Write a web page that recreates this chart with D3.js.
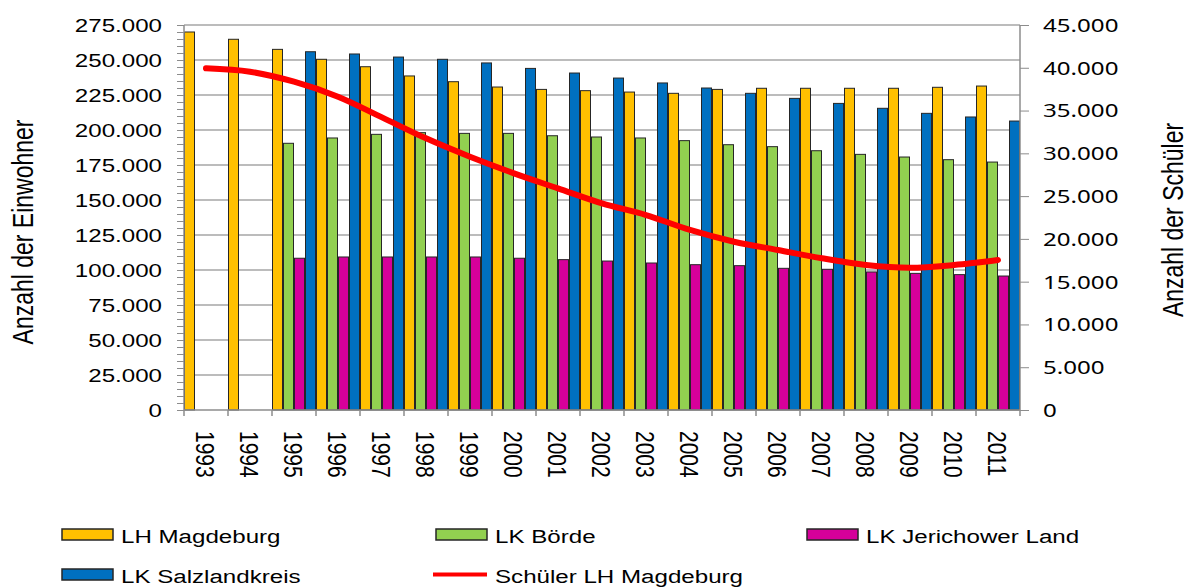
<!DOCTYPE html>
<html>
<head>
<meta charset="utf-8">
<script src="https://cdn.jsdelivr.net/npm/d3@7"></script>
<style>
  body { margin: 0; background: #fff; }
  svg { display: block; }
  text { fill: #000; }
</style>
</head>
<body>
<div id="chart"></div>
<script>
    "use strict";

    // Jahre (Kategorien)
    var years = ["1993", "1994", "1995", "1996", "1997", "1998", "1999", "2000", "2001", "2002",
        "2003", "2004", "2005", "2006", "2007", "2008", "2009", "2010", "2011"];

    // Einwohner (linke Achse)
    var magdeburg = [270000, 264800, 257600, 250500, 245200, 238600, 234500, 230700, 229000, 228100,
        227100, 226200, 229000, 229800, 229800, 229800, 229800, 230500, 231400];
    var boerde = [null, null, 190500, 194300, 196900, 198100, 197600, 197600, 195900, 195000,
        194300, 192400, 189500, 188100, 185200, 182600, 180700, 178800, 177100];
    var jerichow = [null, null, 108400, 109300, 109300, 109300, 109300, 108400, 107400, 106400,
        105000, 103800, 103100, 101200, 100500, 98600, 97600, 96700, 95700];
    var salzland = [null, null, 255900, 254300, 252100, 250500, 247900, 244000, 240700, 237100,
        233600, 230000, 226200, 222600, 219000, 215500, 211900, 209300, 206400];

    // Schüler (rechte Achse)
    var schueler = [39940, 39540, 38370, 36620, 34200, 31750, 29600, 27660, 25900, 24150,
        22790, 21040, 19670, 18700, 17730, 16950, 16630, 16950, 17530];

    var seriesNames = ["LH Magdeburg", "LK Börde", "LK Jerichower Land", "LK Salzlandkreis"];
    var seriesValues = [magdeburg, boerde, jerichow, salzland];
    var seriesColors = ["#FFC000", "#92D050", "#D6009A", "#0070C0"];
    var lineName = "Schüler LH Magdeburg";

    var leftTicks = d3.range(0, 275001, 25000);
    var rightTicks = d3.range(0, 45001, 5000);

    var width = 1189, height = 587;
    var SX = 1.27; // Texte im Original horizontal gestreckt
    var de = d3.formatLocale({ decimal: ",", thousands: ".", grouping: [3], currency: ["", "€"] });
    var fmt = de.format(",.0f");

    var svg = d3.select("#chart").append("svg")
        .attr("width", width)
        .attr("height", height);

    var x0 = d3.scaleBand().domain(years).range([184, 1020]).padding(0);
    var x1 = d3.scaleBand().domain(d3.range(4)).range([0, x0.bandwidth()]).padding(0);
    var yL = d3.scaleLinear().domain([0, 275000]).range([410, 25]);
    var yR = d3.scaleLinear().domain([0, 45000]).range([410, 25]);

    // Gitterlinien
    svg.append("g").selectAll("line")
        .data(leftTicks.filter(function (d) { return d > 0; }))
        .enter().append("line")
        .attr("x1", 184).attr("x2", 1020)
        .attr("y1", function (d) { return yL(d); })
        .attr("y2", function (d) { return yL(d); })
        .attr("stroke", "#a6a6a6").attr("stroke-width", 1.5);

    // Balken
    var groups = svg.append("g").selectAll("g")
        .data(seriesValues)
        .enter().append("g")
        .attr("fill", function (d, i) { return seriesColors[i]; });

    groups.each(function (vals, si) {
        d3.select(this).selectAll("rect")
            .data(vals.map(function (v, i) { return { year: years[i], v: v }; })
                .filter(function (d) { return d.v !== null; }))
            .enter().append("rect")
            .attr("x", function (d) { return x0(d.year) + x1(si) + 0.5; })
            .attr("width", x1.bandwidth() - 1)
            .attr("y", function (d) { return yL(d.v); })
            .attr("height", function (d) { return yL(0) - yL(d.v); })
            .attr("stroke", "#262626").attr("stroke-width", 1);
    });

    // Achsen
    var axisColor = "#8c8c8c";
    var leftAxis = svg.append("g").attr("transform", "translate(184,0)");
    leftAxis.call(d3.axisLeft(yL).tickValues(d3.range(0, 275001, 5000)).tickSize(7).tickFormat(""))
        .call(function (g) { g.select(".domain").remove(); })
        .selectAll("line").attr("stroke", axisColor);
    leftAxis.append("line").attr("y1", 25).attr("y2", 410).attr("stroke", axisColor).attr("stroke-width", 1.5);

    svg.append("g").selectAll("text")
        .data(leftTicks)
        .enter().append("text")
        .attr("transform", function (d) { return "translate(162," + yL(d) + ") scale(" + SX + ",1)"; })
        .attr("dy", "0.36em")
        .attr("text-anchor", "end")
        .style("font-family", "'Liberation Sans', Arial, sans-serif")
        .style("font-size", "19px")
        .text(function (d) { return fmt(d); });

    var rightAxis = svg.append("g").attr("transform", "translate(1020,0)");
    rightAxis.call(d3.axisRight(yR).tickValues(rightTicks).tickSize(9).tickFormat(""))
        .call(function (g) { g.select(".domain").remove(); })
        .selectAll("line").attr("stroke", axisColor);
    rightAxis.append("line").attr("y1", 25).attr("y2", 410).attr("stroke", axisColor).attr("stroke-width", 1.5);

    svg.append("g").selectAll("text")
        .data(rightTicks)
        .enter().append("text")
        .attr("transform", function (d) { return "translate(1043," + yR(d) + ") scale(" + SX + ",1)"; })
        .attr("dy", "0.36em")
        .style("font-family", "'Noto Sans', sans-serif")
        .style("font-size", "19px")
        .text(function (d) { return fmt(d); });

    var bottom = svg.append("g");
    bottom.append("line").attr("x1", 184).attr("x2", 1020).attr("y1", 410).attr("y2", 410)
        .attr("stroke", axisColor).attr("stroke-width", 1.5);
    bottom.selectAll("line.tick")
        .data(years.concat(["end"]))
        .enter().append("line").attr("class", "tick")
        .attr("x1", function (d) { return d === "end" ? 1020 : x0(d); })
        .attr("x2", function (d) { return d === "end" ? 1020 : x0(d); })
        .attr("y1", 410).attr("y2", 416)
        .attr("stroke", axisColor).attr("stroke-width", 1.5);

    bottom.selectAll("text")
        .data(years)
        .enter().append("text")
        .attr("transform", function (d) {
            return "translate(" + (x0(d) + x0.bandwidth() / 2) + ",431) rotate(90) scale(1," + SX + ")";
        })
        .attr("dy", "0.36em")
        .style("font-family", "'Liberation Sans', Arial, sans-serif")
        .style("font-size", "21px")
        .text(function (d) { return d; });

    // Achsentitel
    svg.append("text")
        .attr("transform", "translate(22,232) rotate(-90) scale(1," + SX + ")")
        .attr("text-anchor", "middle").attr("dy", "0.36em")
        .style("font-family", "'Liberation Sans', Arial, sans-serif")
        .style("font-size", "23px")
        .text("Anzahl der Einwohner");

    svg.append("text")
        .attr("transform", "translate(1172,220) rotate(-90) scale(1," + SX + ")")
        .attr("text-anchor", "middle").attr("dy", "0.36em")
        .style("font-family", "'Liberation Sans', Arial, sans-serif")
        .style("font-size", "23px")
        .text("Anzahl der Schüler");

    // Linie Schüler
    var line = d3.line()
        .x(function (d, i) { return x0(years[i]) + x0.bandwidth() / 2; })
        .y(function (d) { return yR(d); })
        .curve(d3.curveCatmullRom.alpha(0.5));

    svg.append("path")
        .datum(schueler)
        .attr("d", line)
        .attr("fill", "none")
        .attr("stroke", "#FF0000")
        .attr("stroke-width", 6)
        .attr("stroke-linecap", "round")
        .attr("stroke-linejoin", "round");

    // Legende
    var legendItems = seriesNames.map(function (n, i) { return { name: n, color: seriesColors[i], type: "bar" }; })
        .concat([{ name: lineName, color: "#FF0000", type: "line" }]);
    var colX = [62, 436, 807];

    var legend = svg.append("g").selectAll("g")
        .data(legendItems)
        .enter().append("g")
        .attr("transform", function (d, i) {
            return "translate(" + colX[i % 3] + "," + (529 + Math.floor(i / 3) * 40) + ")";
        });

    legend.filter(function (d) { return d.type === "bar"; })
        .append("rect")
        .attr("width", 51).attr("height", 11)
        .attr("fill", function (d) { return d.color; })
        .attr("stroke", "#262626").attr("stroke-width", 1.5);

    legend.filter(function (d) { return d.type === "line"; })
        .append("line")
        .attr("x1", -3).attr("x2", 51).attr("y1", 5.5).attr("y2", 5.5)
        .attr("stroke", function (d) { return d.color; })
        .attr("stroke-width", 4);

    legend.append("text")
        .attr("transform", "translate(59,14) scale(" + SX + ",1)")
        .style("font-family", "'Liberation Sans', Arial, sans-serif")
        .style("font-size", "19px")
        .text(function (d) { return d.name; });
</script>
</body>
</html>
